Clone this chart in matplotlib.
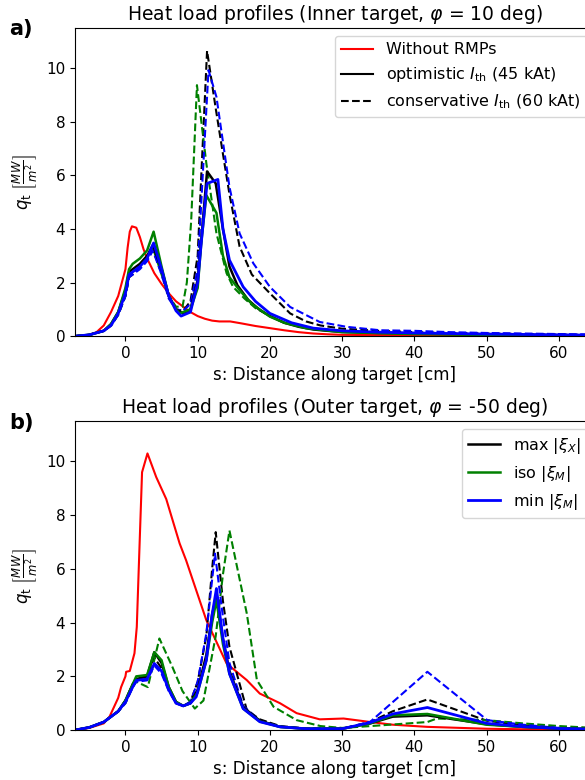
import numpy as np
import matplotlib
matplotlib.use('Agg')
import matplotlib.pyplot as plt

# ---- Inner target (phi = 10 deg) ----
in_red_x = [-7, -5, -4, -3, -2, -1, -0.5, 0, 0.3, 0.6, 0.9, 1.5, 2.0, 2.5, 3, 4, 5, 6, 7, 8, 9, 10, 11, 12, 13, 14.5, 16, 18, 20, 22, 24, 26, 28, 30, 35, 40, 50, 60, 65]
in_red_y = [0, 0.05, 0.15, 0.4, 0.9, 1.5, 2.0, 2.5, 3.3, 3.9, 4.1, 4.05, 3.7, 3.25, 2.9, 2.35, 1.95, 1.6, 1.3, 1.1, 0.9, 0.75, 0.65, 0.58, 0.55, 0.55, 0.48, 0.38, 0.3, 0.22, 0.15, 0.1, 0.07, 0.05, 0.04, 0.03, 0.02, 0.01, 0.01]

in_max_x = [-7, -5, -3, -2, -1, 0, 0.5, 1, 2, 3, 3.8, 5, 6, 7, 8, 9, 10, 10.5, 11.3, 12.5, 13.5, 14.4, 15.5, 17, 18.5, 20, 22, 24, 26, 28, 30, 35, 40, 45, 50, 55, 60, 65]
in_max_y = [0, 0.05, 0.2, 0.45, 0.9, 1.7, 2.4, 2.5, 2.7, 3.0, 3.4, 2.5, 1.5, 1.0, 0.85, 1.0, 2.1, 3.6, 6.15, 5.7, 4.0, 2.6, 1.9, 1.35, 1.0, 0.75, 0.5, 0.35, 0.25, 0.2, 0.16, 0.12, 0.1, 0.08, 0.06, 0.05, 0.04, 0.03]
in_max_c_x = [-7, -5, -3, -2, -1, 0, 0.5, 1, 2, 3, 3.8, 5, 6, 7, 8, 9, 10, 10.5, 11.3, 12.5, 13.5, 14.4, 15.8, 17.5, 20, 22.8, 25, 27, 30, 35, 40, 45, 50, 55, 60, 65]
in_max_c_y = [0, 0.05, 0.2, 0.4, 0.8, 1.5, 2.2, 2.3, 2.6, 2.9, 3.2, 2.4, 1.5, 1.0, 0.95, 1.3, 3.0, 6.0, 10.65, 8.5, 6.8, 5.3, 3.35, 2.3, 1.6, 0.85, 0.55, 0.4, 0.28, 0.2, 0.15, 0.12, 0.1, 0.08, 0.06, 0.05]

in_iso_x = [-7, -5, -3, -2, -1, 0, 0.5, 1, 2, 3, 3.9, 5, 6, 7, 7.5, 9, 10, 10.5, 11.2, 12.6, 13.5, 14.4, 15.8, 17.5, 20, 22, 25, 30, 40, 50, 60, 65]
in_iso_y = [0, 0.05, 0.2, 0.45, 0.9, 1.8, 2.5, 2.7, 2.9, 3.2, 3.9, 2.6, 1.5, 1.0, 0.85, 1.0, 1.8, 3.5, 5.26, 4.6, 3.0, 2.2, 1.72, 1.2, 0.73, 0.5, 0.3, 0.15, 0.08, 0.05, 0.03, 0.02]
in_iso_c_x = [-7, -5, -3, -2, -1, 0, 0.5, 1, 2, 3, 3.8, 5, 6, 7, 7.9, 8.5, 9.1, 9.9, 11.2, 12.6, 14, 14.9, 16.5, 18, 20, 22, 25, 30, 40, 50, 60, 65]
in_iso_c_y = [0, 0.05, 0.2, 0.4, 0.8, 1.5, 2.2, 2.4, 2.6, 2.9, 3.3, 2.3, 1.5, 1.1, 1.1, 2.0, 4.3, 9.37, 6.45, 3.84, 2.35, 1.84, 1.4, 1.05, 0.75, 0.5, 0.32, 0.18, 0.1, 0.06, 0.04, 0.03]

in_min_x = [-7, -5, -3, -2, -1, 0, 0.5, 1, 2, 3, 3.9, 5, 6, 7, 7.7, 9, 10, 10.5, 11.3, 12.8, 13.5, 14.4, 16.3, 18, 20, 23, 26, 30, 35, 40, 50, 60, 65]
in_min_y = [0, 0.05, 0.2, 0.4, 0.85, 1.6, 2.3, 2.4, 2.6, 2.9, 3.48, 2.5, 1.5, 0.95, 0.75, 0.9, 2.0, 3.5, 5.7, 5.85, 4.0, 2.84, 1.84, 1.3, 0.85, 0.5, 0.3, 0.2, 0.15, 0.12, 0.08, 0.05, 0.04]
in_min_c_x = [-7, -5, -3, -2, -1, 0, 0.5, 1, 2, 3, 3.8, 5, 6, 7, 8, 9, 10, 10.7, 11.5, 12.6, 14.4, 15.8, 17.7, 20, 22.8, 26.9, 30.6, 35.3, 40, 45, 50, 55, 60, 65]
in_min_c_y = [0, 0.05, 0.2, 0.4, 0.8, 1.5, 2.2, 2.3, 2.5, 2.8, 3.2, 2.3, 1.4, 1.0, 0.95, 1.2, 2.5, 6.0, 9.93, 8.93, 5.57, 3.84, 2.72, 1.84, 1.09, 0.53, 0.35, 0.22, 0.2, 0.15, 0.12, 0.1, 0.08, 0.06]

# ---- Outer target (phi = -50 deg) ----
out_red_x = [-7, -5, -3, -2.2, -1, -0.6, 0, 0.1, 0.6, 1.25, 1.57, 1.85, 2.3, 3.05, 4.26, 5.65, 7.5, 8.4, 11.2, 14, 16.8, 18.6, 21.4, 23.7, 26.9, 30.2, 33.9, 37, 41.8, 50, 55, 60, 65]
out_red_y = [0, 0.08, 0.25, 0.5, 1.2, 1.6, 2.0, 2.17, 2.2, 2.86, 3.84, 6.07, 9.6, 10.3, 9.42, 8.6, 6.95, 6.32, 4.09, 2.48, 1.86, 1.36, 1.0, 0.63, 0.4, 0.43, 0.3, 0.2, 0.12, 0.05, 0.03, 0.02, 0.01]

out_max_x = [-7, -5, -3, -1, 0, 1, 1.5, 3, 4, 5, 6, 7, 8, 9, 10, 11.2, 12, 12.6, 13.5, 14.4, 16.3, 18.6, 21.4, 25, 30, 33.9, 37, 41.8, 50, 55, 60, 65]
out_max_y = [0, 0.1, 0.3, 0.7, 1.1, 1.7, 1.9, 2.0, 2.9, 2.5, 1.6, 1.05, 0.9, 1.0, 1.5, 2.8, 4.3, 5.0, 3.4, 2.2, 0.85, 0.35, 0.12, 0.05, 0.05, 0.25, 0.5, 0.55, 0.22, 0.12, 0.06, 0.03]
out_max_c_x = [-7, -5, -3, -1, 0, 1, 1.5, 3, 4, 5, 6, 7, 8, 9, 10, 11.2, 12, 12.5, 13.5, 14.4, 16.8, 18.6, 21.4, 25, 30, 33.9, 37, 41.8, 50, 55, 60, 65]
out_max_c_y = [0, 0.1, 0.3, 0.7, 1.1, 1.7, 1.9, 2.0, 2.7, 2.3, 1.5, 1.0, 0.9, 1.05, 1.8, 3.5, 6.0, 7.37, 4.8, 3.1, 0.75, 0.4, 0.15, 0.06, 0.05, 0.3, 0.7, 1.14, 0.35, 0.18, 0.08, 0.04]

out_iso_x = [-7, -5, -3, -1, 0, 1, 1.5, 3, 4, 5, 6, 7, 8, 9, 10, 11.2, 12, 12.6, 13.5, 14.4, 16.3, 18.6, 21.4, 25, 30, 33.9, 37, 41.8, 50, 55, 60, 65]
out_iso_y = [0, 0.1, 0.3, 0.7, 1.1, 1.7, 2.0, 2.05, 2.9, 2.6, 1.6, 1.05, 0.9, 1.0, 1.4, 2.6, 4.0, 4.83, 3.2, 2.1, 0.8, 0.32, 0.12, 0.05, 0.05, 0.25, 0.55, 0.6, 0.2, 0.12, 0.06, 0.03]
out_iso_c_x = [-7, -5, -3, -1, 0, 1, 1.5, 3.1, 4.7, 6.5, 7.9, 9.6, 10.8, 12.5, 13.5, 14.4, 16.8, 18.2, 20.5, 23.7, 27, 30, 34, 41.8, 43.1, 50, 55, 60, 65]
out_iso_c_y = [0, 0.1, 0.3, 0.7, 1.0, 1.6, 1.8, 1.6, 3.41, 2.35, 1.45, 0.8, 1.1, 3.5, 5.8, 7.43, 4.34, 1.86, 0.87, 0.37, 0.15, 0.08, 0.15, 0.3, 0.43, 0.37, 0.25, 0.15, 0.08]

out_min_x = [-7, -5, -3, -1, 0, 1, 1.5, 3, 4, 5, 6, 7, 8, 9, 9.8, 11.2, 12, 12.6, 13.5, 14.4, 16.3, 18.6, 21.4, 25, 30, 33.9, 37, 41.8, 50, 55, 60, 65]
out_min_y = [0, 0.1, 0.3, 0.7, 1.05, 1.6, 1.85, 1.9, 2.48, 2.2, 1.5, 1.0, 0.9, 1.0, 1.24, 2.6, 4.3, 5.27, 3.4, 2.1, 0.8, 0.31, 0.12, 0.05, 0.05, 0.28, 0.6, 0.84, 0.25, 0.13, 0.06, 0.03]
out_min_c_x = [-7, -5, -3, -1, 0, 1, 1.5, 3, 4, 5, 6, 7, 8, 9, 10, 11.2, 12, 12.4, 13.5, 14.4, 16.3, 18.6, 21.4, 25, 30, 33.9, 41.8, 50.1, 55, 60, 65]
out_min_c_y = [0, 0.1, 0.3, 0.7, 1.0, 1.6, 1.8, 1.85, 2.4, 2.1, 1.45, 1.0, 0.9, 1.05, 1.8, 3.6, 5.6, 6.57, 4.2, 2.5, 0.9, 0.35, 0.13, 0.05, 0.05, 0.31, 2.17, 0.37, 0.2, 0.08, 0.03]

fig = plt.figure(figsize=(5.85, 7.8), dpi=100)
ax1 = fig.add_axes([0.128, 0.569, 0.889, 0.395])
ax2 = fig.add_axes([0.128, 0.064, 0.889, 0.396])

ylab = r'$q_\mathrm{t}$ $\left[\frac{MW}{m^2}\right]$'

# top panel
ax1.plot(in_red_x, in_red_y, color='red', lw=1.5, label='Without RMPs')
ax1.plot(in_max_c_x, in_max_c_y, color='black', ls='--', lw=1.5)
ax1.plot(in_iso_c_x, in_iso_c_y, color='green', ls='--', lw=1.5)
ax1.plot(in_min_c_x, in_min_c_y, color='blue', ls='--', lw=1.5)
ax1.plot(in_max_x, in_max_y, color='black', lw=1.8)
ax1.plot(in_iso_x, in_iso_y, color='green', lw=1.8)
ax1.plot(in_min_x, in_min_y, color='blue', lw=2.0)
ax1.plot([], [], color='black', lw=1.5, label=r'optimistic $I_\mathrm{th}$ (45 kAt)')
ax1.plot([], [], color='black', ls='--', lw=1.5, label=r'conservative $I_\mathrm{th}$ (60 kAt)')
ax1.legend(loc='upper right', fontsize=11.5)
ax1.set_title(r'Heat load profiles (Inner target, $\varphi$ = 10 deg)', fontsize=13.5)

# bottom panel
ax2.plot(out_red_x, out_red_y, color='red', lw=1.5)
ax2.plot(out_max_c_x, out_max_c_y, color='black', ls='--', lw=1.5)
ax2.plot(out_iso_c_x, out_iso_c_y, color='green', ls='--', lw=1.5)
ax2.plot(out_min_c_x, out_min_c_y, color='blue', ls='--', lw=1.5)
ax2.plot(out_max_x, out_max_y, color='black', lw=1.8, label=r'max $|\xi_X|$')
ax2.plot(out_iso_x, out_iso_y, color='green', lw=1.8, label=r'iso $|\xi_M|$')
ax2.plot(out_min_x, out_min_y, color='blue', lw=2.0, label=r'min $|\xi_M|$')
ax2.legend(loc='upper right', fontsize=11.5)
ax2.set_title(r'Heat load profiles (Outer target, $\varphi$ = -50 deg)', fontsize=13.5)

for ax in (ax1, ax2):
    ax.set_xlim(-7, 65)
    ax.set_ylim(0, 11.5)
    ax.set_xticks([0, 10, 20, 30, 40, 50, 60])
    ax.set_yticks([0, 2, 4, 6, 8, 10])
    ax.tick_params(labelsize=11)
    ax.set_xlabel('s: Distance along target [cm]', fontsize=12)
    ax.set_ylabel(ylab, fontsize=12)

fig.text(0.015, 0.975, 'a)', fontsize=15, fontweight='bold', va='top')
fig.text(0.015, 0.47, 'b)', fontsize=15, fontweight='bold', va='top')

fig.savefig('out.png', dpi=100)
